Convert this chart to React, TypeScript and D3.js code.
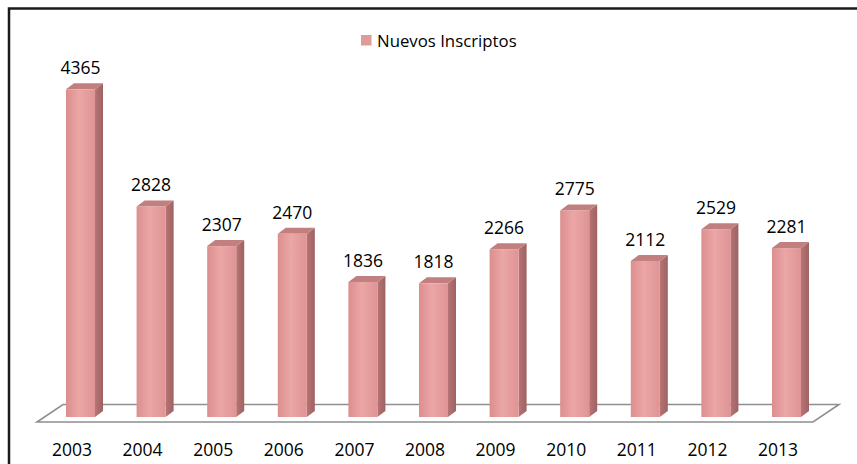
import React from "react";
import * as d3 from "d3";

const years = ["2003","2004","2005","2006","2007","2008","2009","2010","2011","2012","2013"];
const values = [4365, 2828, 2307, 2470, 1836, 1818, 2266, 2775, 2112, 2529, 2281];
const seriesName = "Nuevos Inscriptos";

const W = 857, H = 464;
const FONT = "'Open Sans', 'Liberation Sans', Arial, sans-serif";

export default function App() {
  const x = d3.scaleBand<string>().domain(years).range([30.7, 836.3]).paddingInner(0.589).paddingOuter(0.5);
  const y = d3.scaleLinear().domain([0, 4365]).range([421.8, 89.3]);
  const bw = x.bandwidth();
  const d = 8, h = 6;
  const yBottom = 417;
  const floor = [[63, 404.5], [839, 404.5], [813, 422], [37, 422]];
  return (
    <svg width={W} height={H} style={{ position: "absolute", left: 0, top: 0 }} fontFamily={FONT}>
      <defs>
        <linearGradient id="front" x1="0" x2="1" y1="0" y2="0">
          <stop offset="0" stopColor="#dc8e8e" />
          <stop offset="0.45" stopColor="#eba6a6" />
          <stop offset="1" stopColor="#df9494" />
        </linearGradient>
        <linearGradient id="side" x1="0" x2="1" y1="0" y2="0">
          <stop offset="0" stopColor="#b87474" />
          <stop offset="1" stopColor="#9e6262" />
        </linearGradient>
      </defs>
      <rect x={0} y={0} width={W} height={H} fill="#fff" />
      <rect x={9} y={8.5} width={900} height={500} fill="none" stroke="#1a1a1a" strokeWidth={2.5} />
      <polygon points={floor.map(p => p.join(",")).join(" ")} fill="#fff" stroke="#8f8f8f" strokeWidth={1.6} />
      {years.map((yr, i) => {
        const x0 = x(yr)!;
        const yt = y(values[i]);
        return (
          <g key={yr}>
            <polygon points={`${x0 + bw},${yt} ${x0 + bw + d},${yt - h} ${x0 + bw + d},${yBottom - h} ${x0 + bw},${yBottom}`} fill="url(#side)" />
            <polygon points={`${x0},${yt} ${x0 + d},${yt - h} ${x0 + bw + d},${yt - h} ${x0 + bw},${yt}`} fill="#c27f7f" />
            <rect x={x0} y={yt} width={bw} height={yBottom - yt} fill="url(#front)" />
            <text x={x0 + bw / 2} y={yt - 15} textAnchor="middle" fontSize={17.5} fill="#000">{values[i]}</text>
            <text x={x0 + bw / 2 - 8.5} y={456} textAnchor="middle" fontSize={17.5} fill="#000">{yr}</text>
          </g>
        );
      })}
      <rect x={361} y={35} width={10.5} height={10.5} fill="#e09a9a" />
      <text x={377} y={46.5} fontSize={16.8} fill="#000">{seriesName}</text>
    </svg>
  );
}
